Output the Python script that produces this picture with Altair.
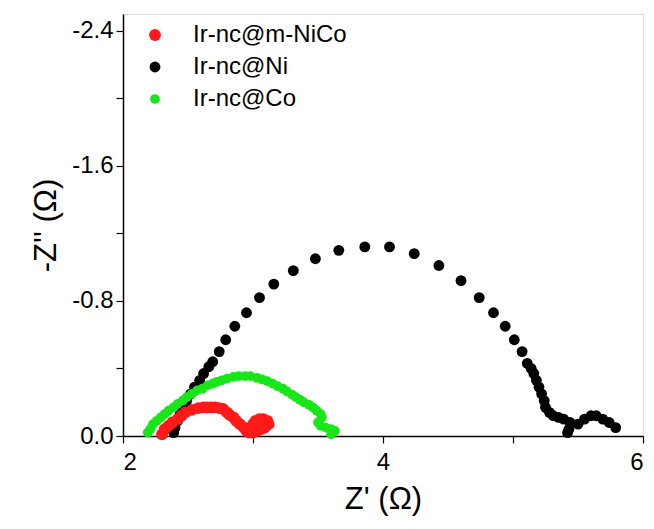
import altair as alt
import pandas as pd

# Ir-nc@Ni (black)
ni_x = [2.39, 2.40, 2.42, 2.44, 2.46, 2.49, 2.52, 2.55, 2.59, 2.62, 2.66,
        2.69, 2.74, 2.79, 2.86, 2.95, 3.05, 3.16, 3.31, 3.48, 3.66, 3.86, 4.05,
        4.24, 4.43, 4.60, 4.74, 4.85, 4.94, 5.01, 5.07, 5.11, 5.14,
        5.16, 5.18, 5.20, 5.22, 5.24, 5.25, 5.28, 5.31, 5.35, 5.39, 5.44,
        5.43, 5.42, 5.50, 5.55, 5.60, 5.64, 5.69, 5.74, 5.79]
ni_y = [-0.02, -0.05, -0.09, -0.13, -0.17, -0.21, -0.25, -0.29, -0.33, -0.37, -0.41,
        -0.44, -0.50, -0.57, -0.65, -0.73, -0.82, -0.90, -0.98, -1.05, -1.10, -1.12, -1.12,
        -1.08, -1.01, -0.92, -0.82, -0.73, -0.65, -0.57, -0.50, -0.43, -0.40,
        -0.37, -0.33, -0.29, -0.25, -0.21, -0.17, -0.14, -0.12, -0.11, -0.10, -0.08,
        -0.04, -0.02, -0.07, -0.10, -0.12, -0.12, -0.10, -0.08, -0.05]

# Ir-nc@m-NiCo (red)
niCo_x = [2.30, 2.32, 2.35, 2.38, 2.42, 2.45, 2.48, 2.53, 2.58, 2.62, 2.65, 2.68,
          2.71, 2.74, 2.77, 2.80, 2.82, 2.85, 2.87, 2.90, 2.93, 2.95, 2.97, 2.98,
          3.00, 3.02, 3.05, 3.08, 3.11, 3.12, 3.09, 3.06, 3.03, 3.00]
niCo_y = [-0.01, -0.04, -0.06, -0.08, -0.10, -0.12, -0.14, -0.155, -0.165, -0.17, -0.17, -0.17,
          -0.17, -0.165, -0.16, -0.14, -0.125, -0.11, -0.09, -0.07, -0.05, -0.03, -0.02, -0.05,
          -0.07, -0.09, -0.10, -0.10, -0.09, -0.07, -0.05, -0.04, -0.03, -0.02]

# Ir-nc@Co (green)
co_x = [2.19, 2.21, 2.23, 2.26, 2.29, 2.32, 2.35, 2.39, 2.42, 2.46, 2.49, 2.53,
        2.57, 2.61, 2.65, 2.69, 2.72, 2.76, 2.80, 2.85, 2.89, 2.94, 2.98, 3.03,
        3.07, 3.11, 3.15, 3.19, 3.23, 3.26, 3.30, 3.33, 3.36, 3.39, 3.43, 3.46,
        3.49, 3.52, 3.53, 3.50, 3.52, 3.56, 3.60, 3.63, 3.60]
co_y = [-0.02, -0.04, -0.07, -0.09, -0.11, -0.13, -0.15, -0.17, -0.19, -0.21, -0.23, -0.25,
        -0.27, -0.28, -0.30, -0.31, -0.32, -0.33, -0.34, -0.35, -0.355, -0.355, -0.355, -0.345,
        -0.335, -0.325, -0.31, -0.295, -0.28, -0.265, -0.245, -0.23, -0.215, -0.20, -0.185, -0.17,
        -0.15, -0.13, -0.11, -0.08, -0.06, -0.05, -0.04, -0.03, -0.01]

series_names = ["Ir-nc@m-NiCo", "Ir-nc@Ni", "Ir-nc@Co"]
series_colors = ["#ff1a1a", "#000000", "#19e619"]

x_ticks = [2, 3, 4, 5, 6]
y_ticks = [0, -0.4, -0.8, -1.2, -1.6, -2.0, -2.4]

frames = []
for name, xs, ys, order in [("Ir-nc@Ni", ni_x, ni_y, 0),
                            ("Ir-nc@m-NiCo", niCo_x, niCo_y, 1),
                            ("Ir-nc@Co", co_x, co_y, 2)]:
    frames.append(pd.DataFrame({"zre": xs, "zim": ys, "sample": name, "ord": order}))
df = pd.concat(frames, ignore_index=True)

FONT = "Liberation Sans"

chart = alt.Chart(df).mark_circle(opacity=1).encode(
    x=alt.X("zre:Q",
            scale=alt.Scale(domain=[2, 6], nice=False, zero=False),
            axis=alt.Axis(values=x_ticks, title="Z' (Ω)",
                          labelExpr="datum.value % 2 == 0 ? format(datum.value, 'd') : ''",
                          grid=False, tickSize=7, tickColor="black", tickWidth=1.2,
                          domainColor="black", domainWidth=1.5,
                          labelFontSize=24, labelFont=FONT, labelColor="black",
                          labelPadding=7, titleFont=FONT, titleFontSize=31,
                          titleFontWeight="normal", titleColor="black", titlePadding=10)),
    y=alt.Y("zim:Q",
            scale=alt.Scale(domain=[-2.5, 0], nice=False, zero=False, reverse=True),
            axis=alt.Axis(values=y_ticks, title="-Z'' (Ω)",
                          labelExpr="round(abs(datum.value)*10) % 8 == 0 ? (datum.value < -0.01 ? '-' : '') + format(abs(datum.value), '.1f') : ''",
                          grid=False, tickSize=7, tickColor="black", tickWidth=1.2,
                          domainColor="black", domainWidth=1.5,
                          labelFontSize=24, labelFont=FONT, labelColor="black",
                          labelPadding=3, titleFont=FONT, titleFontSize=31,
                          titleFontWeight="normal", titleColor="black", titlePadding=9)),
    color=alt.Color("sample:N",
                    scale=alt.Scale(domain=series_names, range=series_colors),
                    legend=alt.Legend(title=None, orient="none", legendX=20, legendY=9,
                                      symbolType="circle", symbolSize=50, symbolStrokeWidth=0,
                                      labelFont=FONT, labelFontSize=24, labelColor="black",
                                      labelOffset=26, rowPadding=8)),
    size=alt.Size("sample:N",
                  scale=alt.Scale(domain=series_names, range=[140, 95, 140]),
                  legend=None),
    order=alt.Order("ord:Q"),
).properties(
    width=520, height=422,
    autosize=alt.AutoSizeParams(type="none"),
    padding={"left": 123, "top": 14, "right": 11, "bottom": 93},
).configure_view(
    stroke="black", strokeWidth=1.5
).configure(background="white")

chart.save("out.html", embed_options={"renderer": "svg", "actions": False})
